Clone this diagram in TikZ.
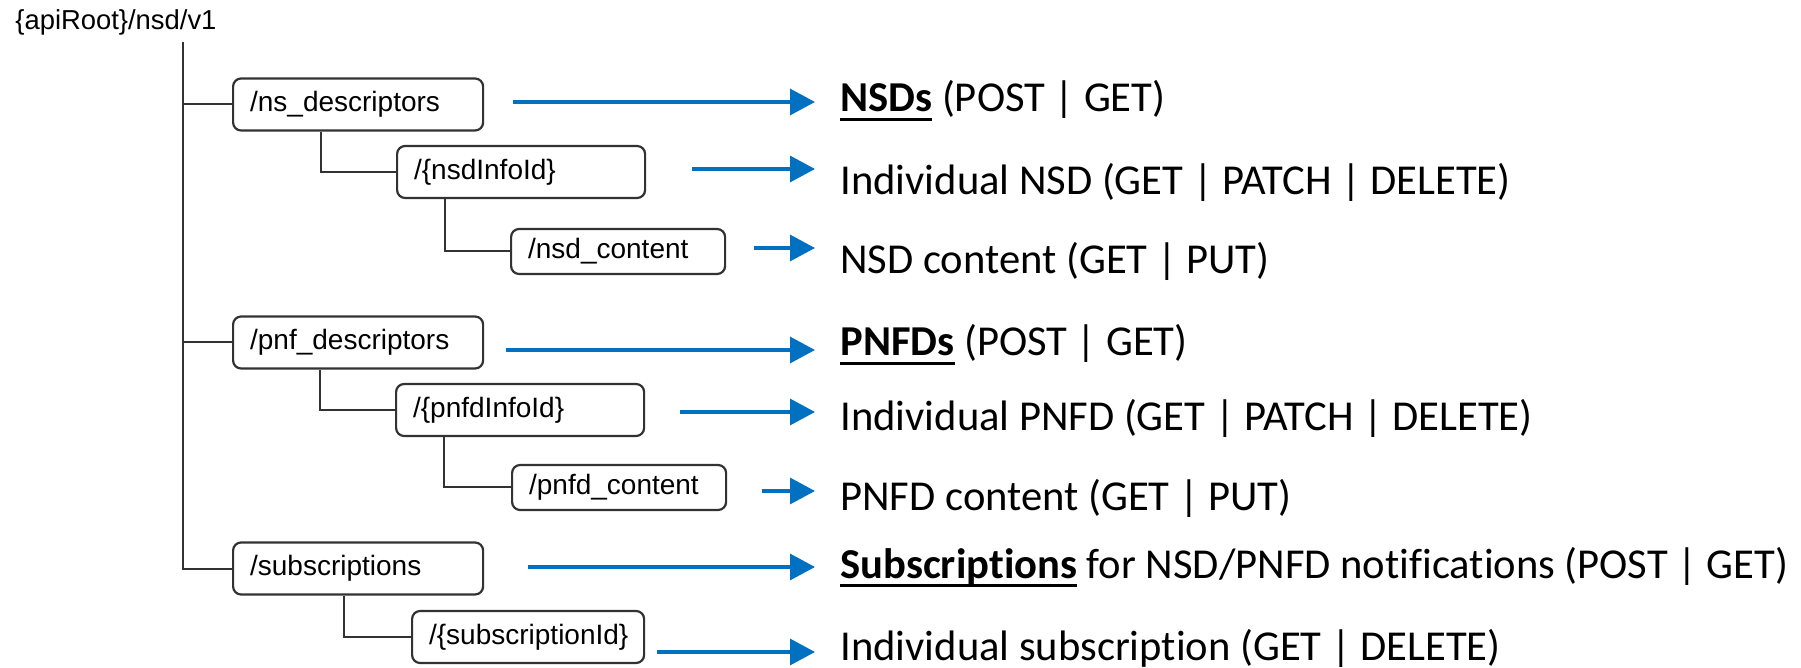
\documentclass[tikz,border=0pt]{standalone}
\usepackage{fontspec}
\setmainfont{Carlito}[Ligatures=NoCommon]
\newfontfamily\arialfont{Liberation Sans}
\usetikzlibrary{arrows.meta}
\definecolor{linkblue}{RGB}{0,112,192}
\definecolor{treegray}{RGB}{50,50,50}
\newsavebox\ulwordbox
\newcommand{\ulbf}[1]{\sbox\ulwordbox{\bfseries #1}\rlap{\rule[-4.5pt]{\wd\ulwordbox}{1.4pt}}\usebox\ulwordbox}

\begin{document}
\begin{tikzpicture}[x=0.5pt,y=-0.5pt,
  res/.style={draw=treegray, line width=1.1pt, rounded corners=4pt, anchor=west,
    inner xsep=8.5pt, inner ysep=0pt, minimum height=26pt, text width=#1, align=left,
    font=\arialfont\fontsize{14}{16}\selectfont},
  tree/.style={draw=treegray, line width=1pt},
  link/.style={draw=linkblue, line width=1.6pt, -{Triangle[length=12.5pt,width=13pt]}, shorten >=12.5pt},
  lbl/.style={anchor=base west, inner sep=0pt, font=\fontsize{21.3}{25}\selectfont}]
\useasboundingbox (0,0) rectangle (1801,668);

\node [anchor=west, inner sep=0pt, font=\arialfont\fontsize{13.7}{16}\selectfont] (root) at (15,22) {\{apiRoot\}/nsd/v1};
\coordinate (top) at (183,42);

\node [res=108pt] (ns) at (232,104.5) {/ns\_descriptors};
\node [res=107pt] (nsdinfo) at (396,172) {/\{nsdInfoId\}};
\node [res=90pt, minimum height=22.5pt] (nsdcont) at (510,251.5) {/nsd\_content};
\node [res=108pt] (pnf) at (232,342.5) {/pnf\_descriptors};
\node [res=107pt] (pnfdinfo) at (395,410) {/\{pnfdInfoId\}};
\node [res=90pt, minimum height=22.5pt] (pnfdcont) at (511,487.5) {/pnfd\_content};
\node [res=108pt] (subs) at (232,568.5) {/subscriptions};
\node [res=99pt] (subsid) at (411,637) {/\{subscriptionId\}};

\draw [tree] (top) |- (ns.west);
\draw [tree] (top) |- (pnf.west);
\draw [tree] (top) |- (subs.west);
\draw [tree] ([xshift=44.5pt]ns.south west) |- (nsdinfo.west);
\draw [tree] ([xshift=24.5pt]nsdinfo.south west) |- (nsdcont.west);
\draw [tree] ([xshift=44pt]pnf.south west) |- (pnfdinfo.west);
\draw [tree] ([xshift=24.5pt]pnfdinfo.south west) |- (pnfdcont.west);
\draw [tree] ([xshift=56pt]subs.south west) |- (subsid.west);

\node [lbl] (l1) at (840,112) {\ulbf{NSDs} (POST | GET)};
\node [lbl] (l2) at (840,195) {Individual NSD (GET | PATCH | DELETE)};
\node [lbl] (l3) at (840,274) {NSD content (GET | PUT)};
\node [lbl] (l4) at (840,356) {\ulbf{PNFDs} (POST | GET)};
\node [lbl] (l5) at (840,430) {Individual PNFD (GET | PATCH | DELETE)};
\node [lbl] (l6) at (840,510) {PNFD content (GET | PUT)};
\node [lbl] (l7) at (840,578) {\ulbf{Subscriptions} for NSD/PNFD notifications (POST | GET)};
\node [lbl] (l8) at (840,660) {Individual subscription (GET | DELETE)};

\coordinate (a1) at (513,102);
\coordinate (a2) at (692,169);
\coordinate (a3) at (754,248);
\coordinate (a4) at (506,350);
\coordinate (a5) at (680,412);
\coordinate (a6) at (762,491);
\coordinate (a7) at (528,567);
\coordinate (a8) at (657,652);
\foreach \i in {1,...,8}
  \draw [link] (a\i) -- (a\i -| l\i.west);
\end{tikzpicture}
\end{document}
